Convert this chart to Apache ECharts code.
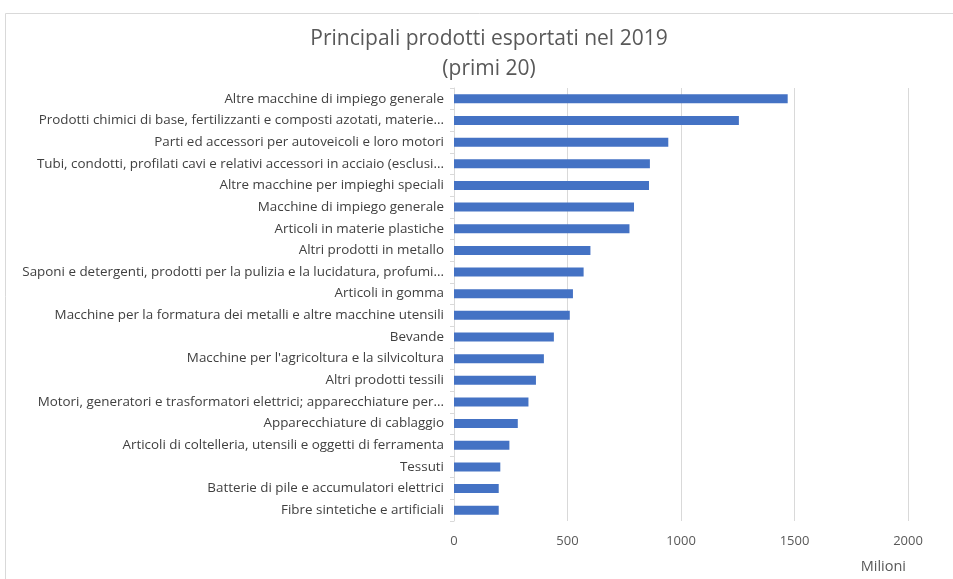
<!DOCTYPE html>
<html><head><meta charset="utf-8">
<script src="https://cdn.jsdelivr.net/npm/echarts@6/dist/echarts.min.js"></script>
<style>html,body{margin:0;padding:0;background:#fff}#c{width:953px;height:579px}</style>
</head><body><div id="c"></div>
<script>
const categories = [
  "Altre macchine di impiego generale",
  "Prodotti chimici di base, fertilizzanti e composti azotati, materie...",
  "Parti ed accessori per autoveicoli e loro motori",
  "Tubi, condotti, profilati cavi e relativi accessori in acciaio (esclusi...",
  "Altre macchine per impieghi speciali",
  "Macchine di impiego generale",
  "Articoli in materie plastiche",
  "Altri prodotti in metallo",
  "Saponi e detergenti, prodotti per la pulizia e la lucidatura, profumi...",
  "Articoli in gomma",
  "Macchine per la formatura dei metalli e altre macchine utensili",
  "Bevande",
  "Macchine per l'agricoltura e la silvicoltura",
  "Altri prodotti tessili",
  "Motori, generatori e trasformatori elettrici; apparecchiature per...",
  "Apparecchiature di cablaggio",
  "Articoli di coltelleria, utensili e oggetti di ferramenta",
  "Tessuti",
  "Batterie di pile e accumulatori elettrici",
  "Fibre sintetiche e artificiali"
];
const values = [1470, 1255, 944, 863, 859, 793, 773, 601, 571, 524, 510, 440, 396, 361, 328, 281, 244, 204, 197, 197];
const xTicks = [0, 500, 1000, 1500, 2000];

const chart = echarts.init(document.getElementById('c'), null, {renderer: 'canvas'});
const font = "Open Sans";
chart.setOption({
  animation: false,
  textStyle: {fontFamily: font},
  title: {
    text: "Principali prodotti esportati nel 2019\n(primi 20)",
    left: 484, top: 19, textAlign: 'center',
    textStyle: {fontFamily: font, fontSize: 21, fontWeight: 'normal', color: '#595959', lineHeight: 30}
  },
  graphic: [{type: 'rect', shape: {x: 5.5, y: 13.5, width: 960, height: 580}, style: {fill: 'none', stroke: '#d9d9d9', lineWidth: 1}, silent: true}],
  grid: {left: 454, right: 45, top: 88, bottom: 58},
  xAxis: {
    type: 'value', min: xTicks[0], max: xTicks[xTicks.length - 1], interval: 500,
    name: 'Milioni', nameLocation: 'end', nameGap: 0,
    nameTextStyle: {fontFamily: font, fontSize: 14.5, color: '#595959', align: 'right', verticalAlign: 'top', padding: [38, 2, 0, 0]},
    axisLine: {show: false}, axisTick: {show: false},
    axisLabel: {fontFamily: font, fontSize: 13, color: '#595959', margin: 14, formatter: v => String(v)},
    splitLine: {lineStyle: {color: '#d9d9d9'}}
  },
  yAxis: {
    type: 'category', data: categories, inverse: true,
    axisLine: {show: true, lineStyle: {color: '#d9d9d9'}},
    axisTick: {show: true, length: 4, lineStyle: {color: '#d9d9d9'}},
    axisLabel: {fontFamily: font, fontSize: 13.4, color: '#404040', margin: 10}
  },
  series: [{
    type: 'bar', data: values, barWidth: 9,
    itemStyle: {color: '#4472c4'}
  }]
});
</script></body></html>
